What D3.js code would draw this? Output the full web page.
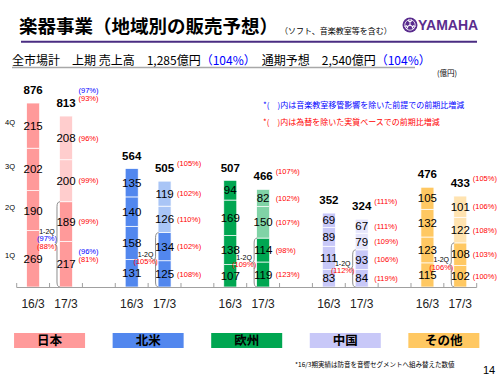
<!DOCTYPE html>
<html>
<head>
<meta charset="utf-8">
<script src="https://cdn.jsdelivr.net/npm/d3@7"></script>
<style>
  body { margin: 0; background: #fff; }
  text { font-family: "Liberation Sans", Arial, sans-serif; }
  .jp { font-family: "Noto Sans CJK JP", sans-serif; }
</style>
</head>
<body>
<div class="chart"></div>
<script>
// data
const regions = ['日本', '北米', '欧州', '中国', 'その他']
const years = ['16/3', '17/3']
const quarters = ['1Q', '2Q', '3Q', '4Q']

const q16 = [[269, 190, 202, 215], [131, 158, 140, 135], [107, 138, 169, 94], [83, 111, 89, 69], [115, 123, 132, 105]]
const q17 = [[217, 189, 200, 208], [125, 134, 126, 119], [119, 114, 150, 82], [84, 93, 79, 67], [102, 108, 122, 101]]
const total16 = [876, 564, 507, 352, 476]
const total17 = [813, 505, 466, 324, 433]

// growth vs prior year (red = FX excluded, blue = music school transfer excluded)
const pctTotal = ['93%', '105%', '107%', '111%', '105%']
const pctTotalBlue = ['97%', null, null, null, null]
const pctQ = [['81%', '99%', '99%', '96%'], ['108%', '102%', '110%', '102%'], ['123%', '98%', '107%', '102%'],
              ['119%', '106%', '109%', '111%'], ['100%', '103%', '108%', '106%']]
const pctQBlue = [['96%', null, null, null], [null, null, null, null], [null, null, null, null],
                  [null, null, null, null], [null, null, null, null]]
const pctH1 = ['88%', '105%', '109%', '112%', '106%']
const pctH1Blue = ['97%', null, null, null, null]

const darkColors = ['#ff9a9a', '#5287ee', '#00a651', '#c8c8f8', '#ffc862']
const lightColors = ['#ffcdcd', '#a9c5f6', '#80d3a6', '#e6e6fc', '#ffe3b0']

let width = 500
let height = 375
const baseY = 287

const svg = d3.select('.chart')
  .append('svg')
  .attr('width', width)
  .attr('height', height)

// slots: 16/3, 17/3, gap for each region
const slots = d3.range(14)
const x = d3.scaleBand()
  .domain(slots)
  .range([16.7, 476.7])
  .padding(0)

const y = d3.scaleLinear()
  .domain([0, 1000])
  .range([baseY, 77])

const barW = 13
const slotOf = (r, k) => r * 3 + k
const barX = s => x(s) + (x.bandwidth() - barW) / 2

// header
svg.append('text').attr('class', 'jp')
  .attr('x', 19).attr('y', 33)
  .attr('font-size', 18.5).attr('font-weight', 'bold')
  .text('楽器事業（地域別の販売予想）')
svg.append('text').attr('class', 'jp')
  .attr('x', 280).attr('y', 34)
  .attr('font-size', 8)
  .text('（ソフト、音楽教室等を含む）')

// logo
const logo = svg.append('g').attr('transform', 'translate(410,25)')
logo.append('circle').attr('r', 7.5).attr('fill', '#5a2d8e')
logo.append('circle').attr('r', 5.2).attr('fill', 'none').attr('stroke', '#fff').attr('stroke-width', 0.8)
;[0, 120, 240].forEach(a => {
  logo.append('path')
    .attr('d', 'M0,0 L0,-4 M-1.3,-5.5 L-1.3,-3.5 L1.3,-3.5 L1.3,-5.5')
    .attr('stroke', '#fff').attr('stroke-width', 1).attr('fill', 'none')
    .attr('transform', `rotate(${a})`)
})
svg.append('text')
  .attr('x', 418).attr('y', 30)
  .attr('font-size', 14).attr('font-weight', 'bold')
  .attr('fill', '#5a2d8e')
  .text('YAMAHA')

svg.append('line')
  .attr('x1', 21).attr('x2', 477).attr('y1', 41.7).attr('y2', 41.7)
  .attr('stroke', '#4a2c82').attr('stroke-width', 2)

// summary line
const summary = svg.append('text').attr('class', 'jp')
  .attr('x', 12).attr('y', 65).attr('font-size', 12)
summary.append('tspan').text('全市場計　上期 売上高　1,285億円')
summary.append('tspan').attr('fill', '#0000ff').text('（104%）')
summary.append('tspan').text('　通期予想　2,540億円')
summary.append('tspan').attr('fill', '#0000ff').text('（104%）')
svg.append('line')
  .attr('x1', 12).attr('x2', 415).attr('y1', 67.5).attr('y2', 67.5)
  .attr('stroke', '#a8a8a8').attr('stroke-width', 1.5)

svg.append('text').attr('class', 'jp')
  .attr('x', 437).attr('y', 76).attr('font-size', 7.5)
  .text('(億円)')

svg.append('text').attr('class', 'jp')
  .attr('x', 263).attr('y', 108).attr('font-size', 8).attr('fill', '#0000ff')
  .text('*(　)内は音楽教室移管影響を除いた前提での前期比増減')
svg.append('text').attr('class', 'jp')
  .attr('x', 263).attr('y', 125).attr('font-size', 8).attr('fill', '#ff0000')
  .text('*(　)内は為替を除いた実質ベースでの前期比増減')

// stacked segments
const segs = []
regions.forEach((reg, r) => {
  [q16[r], q17[r]].forEach((vals, k) => {
    let acc = 0
    vals.forEach((v, qi) => {
      segs.push({ r, k, qi, v, y0: acc, y1: acc + v })
      acc += v
    })
  })
})

const graph = svg.append('g')

graph.selectAll('rect')
  .data(segs)
  .enter()
  .append('rect')
  .attr('x', d => barX(slotOf(d.r, d.k)))
  .attr('width', barW)
  .attr('y', d => y(d.y1))
  .attr('height', d => y(d.y0) - y(d.y1))
  .attr('fill', d => (d.k === 1 && d.qi >= 2) ? lightColors[d.r] : darkColors[d.r])
  .attr('stroke', '#fff')
  .attr('stroke-width', 0.7)

graph.selectAll('text.seg')
  .data(segs)
  .enter()
  .append('text')
  .attr('class', 'seg')
  .attr('x', d => x(slotOf(d.r, d.k)) + x.bandwidth() / 2)
  .attr('y', d => y((d.y0 + d.y1) / 2))
  .attr('dy', '0.35em')
  .attr('text-anchor', 'middle')
  .attr('font-size', 11.5)
  .text(d => d.v)

// totals
const totals = []
regions.forEach((reg, r) => {
  totals.push({ r, k: 0, v: total16[r] })
  totals.push({ r, k: 1, v: total17[r] })
})
graph.selectAll('text.tot')
  .data(totals)
  .enter()
  .append('text')
  .attr('class', 'tot')
  .attr('x', d => x(slotOf(d.r, d.k)) + x.bandwidth() / 2)
  .attr('y', d => y(d.v) - 13)
  .attr('dy', '0.35em')
  .attr('text-anchor', 'middle')
  .attr('font-size', 11.5)
  .attr('font-weight', 'bold')
  .text(d => d.v)

// percentage labels beside 17/3 bars
const pctG = svg.append('g').attr('font-size', 7.5)
const pct = (g, px, py, red, blue, anchor) => {
  if (blue) {
    g.append('text').attr('x', px).attr('y', py - 8).attr('dy', '0.35em')
      .attr('text-anchor', anchor).attr('fill', '#0000ff').text(`(${blue})`)
  }
  g.append('text').attr('x', px).attr('y', py).attr('dy', '0.35em')
    .attr('text-anchor', anchor).attr('fill', '#ff0000').text(`(${red})`)
}
regions.forEach((reg, r) => {
  const s = slotOf(r, 1)
  const px = barX(s) + barW + 6
  let acc = 0
  q17[r].forEach((v, qi) => {
    const yc = y(acc + v / 2) + (pctQBlue[r][qi] ? -5 : 0)
    pct(pctG, px, yc, pctQ[r][qi], pctQBlue[r][qi], 'start')
    acc += v
  })
  pct(pctG, px, y(total17[r]) - 18, pctTotal[r], pctTotalBlue[r], 'start')

  // 1-2Q brace
  const h1 = q17[r][0] + q17[r][1]
  const bx = barX(s) - 2.5
  const yt = y(h1), yb = y(0), ym = (yt + yb) / 2
  svg.append('path')
    .attr('d', `M${bx + 3},${yt} Q${bx},${yt} ${bx},${yt + 5} L${bx},${ym - 3} Q${bx},${ym} ${bx - 2},${ym}` +
      ` Q${bx},${ym} ${bx},${ym + 3} L${bx},${yb - 5} Q${bx},${yb} ${bx + 3},${yb}`)
    .attr('fill', 'none').attr('stroke', '#808080').attr('stroke-width', 0.9)

  const lx = barX(s) - 12.5
  const ly = ym - 5
  pctG.append('text').attr('x', lx).attr('y', ly - (pctH1Blue[r] ? 8 : 0)).attr('dy', '0.35em')
    .attr('text-anchor', 'middle').attr('font-size', 7).text('1-2Q')
  pct(pctG, lx, ly + 7, pctH1[r], pctH1Blue[r], 'middle')
})

// quarter labels at left
let qacc = 0
quarters.forEach((q, qi) => {
  const v = q16[0][qi]
  svg.append('text')
    .attr('x', 10).attr('y', y(qacc + v / 2) - 3).attr('dy', '0.35em')
    .attr('text-anchor', 'middle').attr('font-size', 7.5)
    .text(q)
  qacc += v
})

// axis
const axis = svg.append('g').attr('stroke', '#a0a0a0').attr('stroke-width', 1)
axis.append('line')
  .attr('x1', x.range()[0]).attr('x2', x.range()[1])
  .attr('y1', baseY + 0.5).attr('y2', baseY + 0.5)
axis.selectAll('line.tick')
  .data(slots.concat([14]))
  .enter()
  .append('line')
  .attr('class', 'tick')
  .attr('x1', d => x.range()[0] + d * x.step()).attr('x2', d => x.range()[0] + d * x.step())
  .attr('y1', baseY - 4).attr('y2', baseY + 0.5)

const xlabels = []
regions.forEach((reg, r) => years.forEach((yr, k) => xlabels.push({ s: slotOf(r, k), t: yr })))
svg.selectAll('text.xl')
  .data(xlabels)
  .enter()
  .append('text')
  .attr('class', 'xl')
  .attr('x', d => x(d.s) + x.bandwidth() / 2)
  .attr('y', 304).attr('dy', '0.35em')
  .attr('text-anchor', 'middle')
  .attr('font-size', 12)
  .attr('fill', '#222')
  .text(d => d.t)

// legend boxes
const leg = svg.selectAll('g.leg')
  .data(regions)
  .enter()
  .append('g')
  .attr('class', 'leg')
  .attr('transform', (d, r) => `translate(${x(slotOf(r, 1))}, 333)`)
leg.append('rect')
  .attr('x', -35.5).attr('width', 71).attr('height', 15)
  .attr('fill', (d, r) => darkColors[r])
leg.append('text').attr('class', 'jp')
  .attr('y', 7.5).attr('dy', '0.35em')
  .attr('text-anchor', 'middle')
  .attr('font-size', 12.5).attr('font-weight', 'bold')
  .text(d => d)

svg.append('text').attr('class', 'jp')
  .attr('x', 295).attr('y', 367).attr('font-size', 6.5)
  .text('*16/3期実績は防音を音響セグメントへ組み替えた数値')
svg.append('text')
  .attr('x', 483).attr('y', 374).attr('font-size', 11)
  .text('14')
</script>
</body>
</html>
